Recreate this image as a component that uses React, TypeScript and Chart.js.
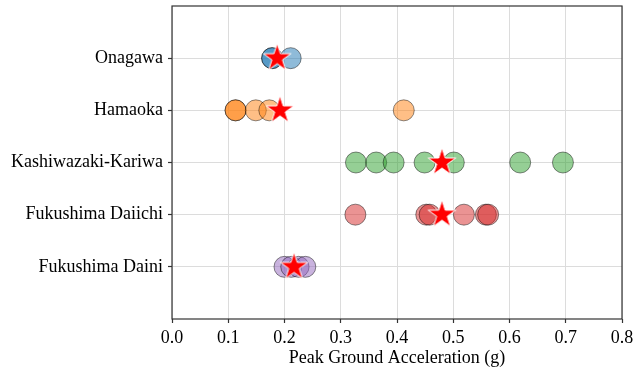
import React, { useEffect, useRef } from "react";
import { Chart, registerables } from "chart.js";

Chart.register(...registerables);

// Category order from bottom (0) to top (4)
const plants = ["Fukushima Daini", "Fukushima Daiichi", "Kashiwazaki-Kariwa", "Hamaoka", "Onagawa"];

const onagawaPGA = [0.178, 0.178, 0.211];
const hamaokaPGA = [0.113, 0.113, 0.149, 0.173, 0.412];
const kashiwazakiPGA = [0.327, 0.363, 0.394, 0.449, 0.501, 0.619, 0.695];
const daiichiPGA = [0.326, 0.452, 0.458, 0.519, 0.558, 0.562];
const dainiPGA = [0.2, 0.212, 0.225, 0.237];

// Star markers (one per plant, in plants order)
const starPGA = [0.217, 0.48, 0.48, 0.192, 0.187];

const xTicks = [0, 0.1, 0.2, 0.3, 0.4, 0.5, 0.6, 0.7, 0.8];

const FONT = "'Liberation Serif', 'Times New Roman', serif";

function makeStar(R: number): HTMLCanvasElement {
  const size = Math.ceil(R * 2 + 4);
  const c = document.createElement("canvas");
  c.width = size;
  c.height = size;
  const ctx = c.getContext("2d")!;
  const cx = size / 2;
  const cy = size / 2;
  const r = R * 0.381966;
  ctx.beginPath();
  for (let i = 0; i < 10; i++) {
    const rad = i % 2 === 0 ? R : r;
    const a = -Math.PI / 2 + (i * Math.PI) / 5;
    const x = cx + rad * Math.cos(a);
    const y = cy + rad * Math.sin(a);
    if (i === 0) ctx.moveTo(x, y);
    else ctx.lineTo(x, y);
  }
  ctx.closePath();
  ctx.fillStyle = "#ff0000";
  ctx.fill();
  ctx.lineWidth = 1;
  ctx.strokeStyle = "#ffffff";
  ctx.stroke();
  return c;
}

const boxPlugin = {
  id: "boxPlugin",
  afterDraw(chart: any) {
    const { ctx, chartArea } = chart;
    ctx.save();
    ctx.strokeStyle = "#333333";
    ctx.lineWidth = 1.2;
    ctx.strokeRect(chartArea.left, chartArea.top, chartArea.right - chartArea.left, chartArea.bottom - chartArea.top);
    ctx.restore();
  },
};

export default function App() {
  const ref = useRef<HTMLCanvasElement | null>(null);

  useEffect(() => {
    if (!ref.current) return;
    const star = makeStar(14.5);
    const series = [
      { vals: dainiPGA, idx: 0, color: "rgba(148,103,189,0.5)" },
      { vals: daiichiPGA, idx: 1, color: "rgba(214,39,40,0.5)" },
      { vals: kashiwazakiPGA, idx: 2, color: "rgba(44,160,44,0.5)" },
      { vals: hamaokaPGA, idx: 3, color: "rgba(255,127,14,0.5)" },
      { vals: onagawaPGA, idx: 4, color: "rgba(31,119,180,0.5)" },
    ];
    const datasets: any[] = series.map((s) => ({
      label: plants[s.idx],
      data: s.vals.map((v) => ({ x: v, y: s.idx })),
      backgroundColor: s.color,
      borderColor: "rgba(0,0,0,0.45)",
      borderWidth: 1,
      pointRadius: 10.5,
      pointHoverRadius: 10.5,
      order: 2,
    }));
    datasets.push({
      label: "mean",
      data: starPGA.map((v, i) => ({ x: v, y: i })),
      pointStyle: star,
      pointRadius: 14,
      order: 0,
    });

    const chart = new Chart(ref.current, {
      type: "scatter",
      data: { datasets },
      plugins: [boxPlugin],
      options: {
        responsive: false,
        animation: false,
        events: [],
        layout: { autoPadding: false, padding: { left: 0, right: 11, top: 6, bottom: 0 } },
        plugins: { legend: { display: false }, tooltip: { enabled: false } },
        scales: {
          x: {
            type: "linear",
            min: 0,
            max: 0.8,
            afterBuildTicks: (axis: any) => {
              axis.ticks = xTicks.map((v) => ({ value: v }));
            },
            afterFit: (scale: any) => {
              scale.height = 50;
              scale.paddingLeft = 0;
              scale.paddingRight = 0;
            },
            ticks: {
              callback: (v: any) => Number(v).toFixed(1),
              font: { family: FONT, size: 18 },
              color: "#000",
              padding: 4,
              maxRotation: 0,
            },
            grid: { color: "#dcdcdc", lineWidth: 1, tickLength: 4, tickColor: "#333", tickWidth: 1.2 },
            border: { display: false },
            title: {
              display: true,
              text: "Peak Ground Acceleration (g)",
              font: { family: FONT, size: 18 },
              color: "#000",
              padding: { top: 0, bottom: 0 },
            },
          },
          y: {
            type: "linear",
            min: -1,
            max: 5,
            afterBuildTicks: (axis: any) => {
              axis.ticks = [0, 1, 2, 3, 4].map((v) => ({ value: v }));
            },
            afterFit: (scale: any) => {
              scale.width = 172;
              scale.paddingTop = 0;
              scale.paddingBottom = 0;
            },
            ticks: {
              callback: (v: any) => plants[v] ?? "",
              font: { family: FONT, size: 18 },
              color: "#000",
              padding: 5,
            },
            grid: { color: "#dcdcdc", lineWidth: 1, tickLength: 4, tickColor: "#333", tickWidth: 1.2 },
            border: { display: false },
          },
        },
      },
    });
    return () => chart.destroy();
  }, []);

  return (
    <div style={{ position: "absolute", left: 0, top: 0, width: 633, height: 369, background: "#fff" }}>
      <canvas ref={ref} width={633} height={369} />
    </div>
  );
}
